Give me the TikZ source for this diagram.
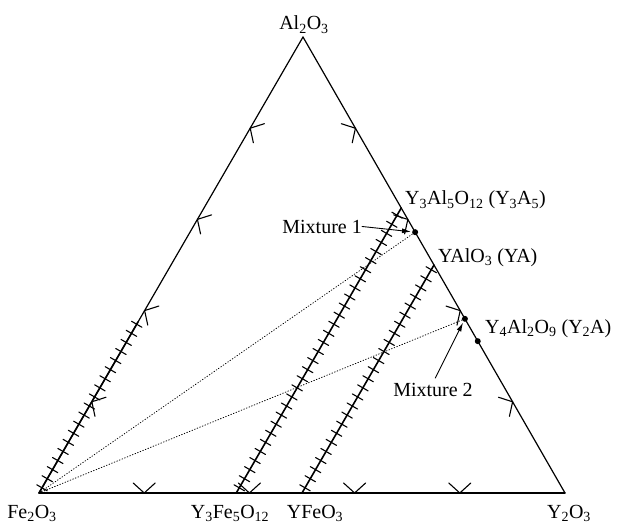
\documentclass[tikz,border=0pt]{standalone}
\usepackage{fontspec}
\setmainfont{Liberation Serif}
\usetikzlibrary{arrows.meta,calc,decorations.markings}
\newcommand{\chemsub}[1]{\textsubscript{#1}}
\newcommand{\edgemark}{\draw[line width=1.1pt] (-11pt,10pt)--(0,0)--(11pt,10pt);}
\tikzset{sideline/.style={line width=1.2pt,postaction={decorate},decoration={markings,mark=at position .2 with {\edgemark},mark=at position .4 with {\edgemark},mark=at position .6 with {\edgemark},mark=at position .8 with {\edgemark}}},hatched/.style={line width=1.6pt,postaction={decorate},decoration={markings,mark=between positions 6pt and 1 step 10.5pt with {\draw[line width=1.1pt] (0,-6pt)--(0,6pt);}}},tieline/.style={line width=.8pt,dotted},leader/.style={-{Latex[length=9pt,width=5pt]},line width=.9pt},phase/.style={circle,fill,inner sep=0pt,minimum size=6pt},lbl/.style={font=\fontsize{20}{24}\selectfont,inner sep=0pt},every picture/.style={line cap=round}}

\begin{document}
\begin{tikzpicture}[x=1pt,y=1pt]
\useasboundingbox (0,0) rectangle (621,523);
\coordinate (A) at (303,486);
\coordinate (F) at (39,30);
\coordinate (Y) at (565,30);
\coordinate (fh) at ($(F)!0.375!(A)$);
\coordinate (yig) at ($(F)!0.375!(Y)$);
\coordinate (yf) at ($(F)!0.5!(Y)$);
\coordinate (y3a5) at ($(A)!0.375!(Y)$);
\coordinate (ya) at ($(A)!0.5!(Y)$);
\foreach \n/\t in {m1/0.428,m2/0.618,y2a/0.667}{
\node[phase] (\n) at ($(A)!\t!(Y)$) {};
}
\draw[sideline] (A) -- (F);
\draw[sideline] (F) -- (Y);
\draw[sideline] (Y) -- (A);
\draw[hatched] (F) -- (fh);
\draw[hatched] (yig) -- (y3a5);
\draw[hatched] (yf) -- (ya);
\draw[tieline] (F) -- (m1) (F) -- (m2);
\node[lbl,anchor=base] (lal) at (304,493) {Al\chemsub{2}O\chemsub{3}};
\node[lbl,anchor=base] (lfe) at (32,5) {Fe\chemsub{2}O\chemsub{3}};
\node[lbl,anchor=base] (lyig) at (230,5) {Y\chemsub{3}Fe\chemsub{5}O\chemsub{12}};
\node[lbl,anchor=base] (lyf) at (315,5) {YFeO\chemsub{3}};
\node[lbl,anchor=base] (ly) at (569,5) {Y\chemsub{2}O\chemsub{3}};
\node[lbl,anchor=base west] (ly3a5) at (405,318) {Y\chemsub{3}Al\chemsub{5}O\chemsub{12} (Y\chemsub{3}A\chemsub{5})};
\node[lbl,anchor=base west] (lya) at (438,261) {YAlO\chemsub{3} (YA)};
\node[lbl,anchor=base west] (ly2a) at (485,190) {Y\chemsub{4}Al\chemsub{2}O\chemsub{9} (Y\chemsub{2}A)};
\node[lbl,anchor=base east] (lm1) at (362,290) {Mixture 1};
\node[lbl,anchor=base] (lm2) at (433,127) {Mixture 2};
\draw[leader,shorten >=1pt] (lm1.east) -- (m1);
\draw[leader,shorten <=5pt,shorten >=1pt] (lm2.north) -- (m2);
\end{tikzpicture}
\end{document}
